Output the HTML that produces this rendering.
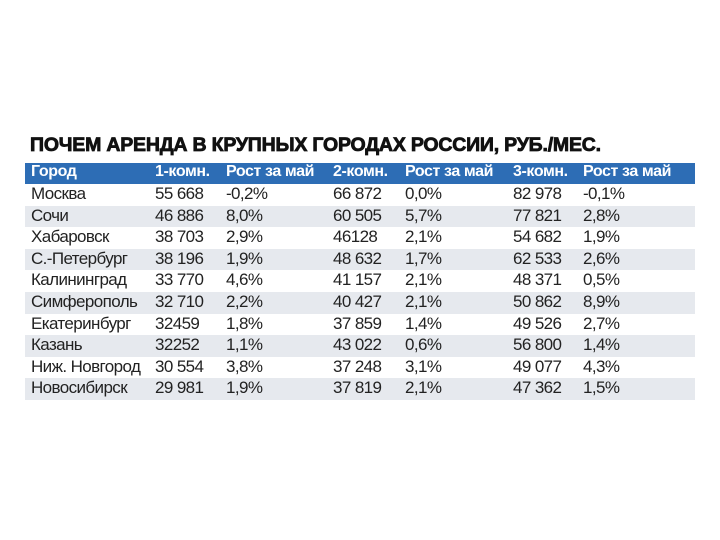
<!DOCTYPE html>
<html><head><meta charset="utf-8"><style>
body{margin:0;width:720px;height:540px;background:#fff;position:relative;overflow:hidden;font-family:"Liberation Sans",sans-serif}
.t{position:absolute;left:30px;top:134px;font-size:19.5px;font-weight:900;letter-spacing:-0.2px;color:#111;white-space:nowrap;-webkit-text-stroke:0.8px #111}
.r{position:absolute;left:25px;width:670px;height:21.6px}
.r span{position:absolute;top:0px;font-size:17px;color:#222;white-space:nowrap;letter-spacing:-0.6px}
.h{background:#2d6db5;top:163px;height:21px}
.h span{color:#fff;font-weight:bold;font-size:16px;top:0px;letter-spacing:-0.4px}
.g{background:#e6e9ee}
</style></head><body>
<div class="t">ПОЧЕМ АРЕНДА В КРУПНЫХ ГОРОДАХ РОССИИ, РУБ./МЕС.</div>
<div class="r h"><span style="left:6px">Город</span><span style="left:130px">1-комн.</span><span style="left:201px">Рост за май</span><span style="left:308px">2-комн.</span><span style="left:380px">Рост за май</span><span style="left:488px">3-комн.</span><span style="left:558px">Рост за май</span></div>
<div id="rows"></div>
<script>
var d=[["Москва","55 668","-0,2%","66 872","0,0%","82 978","-0,1%"],["Сочи","46 886","8,0%","60 505","5,7%","77 821","2,8%"],["Хабаровск","38 703","2,9%","46128","2,1%","54 682","1,9%"],["С.-Петербург","38 196","1,9%","48 632","1,7%","62 533","2,6%"],["Калининград","33 770","4,6%","41 157","2,1%","48 371","0,5%"],["Симферополь","32 710","2,2%","40 427","2,1%","50 862","8,9%"],["Екатеринбург","32459","1,8%","37 859","1,4%","49 526","2,7%"],["Казань","32252","1,1%","43 022","0,6%","56 800","1,4%"],["Ниж. Новгород","30 554","3,8%","37 248","3,1%","49 077","4,3%"],["Новосибирск","29 981","1,9%","37 819","2,1%","47 362","1,5%"]];
var x=[6,130,201,308,380,488,558],h="";
d.forEach(function(r,i){h+='<div class="r'+(i%2?' g':'')+'" style="top:'+(184+i*21.6)+'px">';r.forEach(function(c,j){h+='<span style="left:'+x[j]+'px">'+c+'</span>'});h+='</div>'});
document.getElementById('rows').innerHTML=h;
</script>
</body></html>
